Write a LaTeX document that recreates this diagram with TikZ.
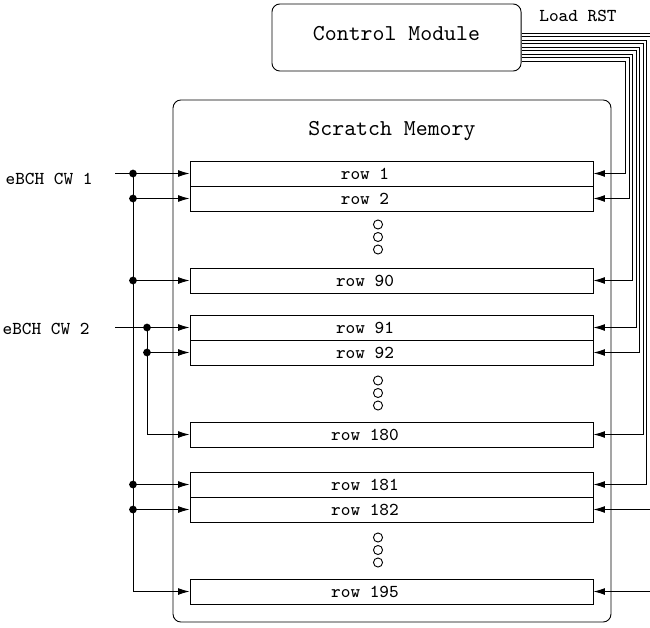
\documentclass[tikz,border=0pt]{standalone}
\usepackage{tikz}
\usetikzlibrary{arrows.meta,positioning,calc}

\begin{document}
\begin{tikzpicture}[x=0.44pt, y=-0.44pt, >={Latex[length=5pt,width=3pt]}, font=\ttfamily,
    block/.style={draw, rounded corners=3.5pt, inner sep=0pt},
    rowbox/.style={draw, minimum width=177.3pt, minimum height=11pt, inner sep=0pt},
    rowtxt/.style={font=\ttfamily\footnotesize, inner sep=1pt},
    lbl/.style={font=\ttfamily\footnotesize},
    jdot/.style={fill=black}]
  \useasboundingbox (0,0) rectangle (650,627);

  % Control module
  \node[block, minimum width=109.6pt, minimum height=29.5pt, text depth=4pt] (ctrl) at (396.5,37.5) {Control Module};
  \node[lbl] (ldrst) at (578,16) {Load RST};

  % Scratch memory
  \node[block, minimum width=192.7pt, minimum height=229.7pt] (mem) at (392,361) {};
  \node[below=6pt of mem.north] (memtitle) {Scratch Memory};

  % Rows
  \foreach \n/\y in {1/173.5, 2/198.5, 90/280.5, 91/327.5, 92/352.5, 180/434.5, 181/484.5, 182/509.5, 195/591.5} {
    \node[rowbox] (r\n) at (391.5,\y) {};
    \node[rowtxt] (t\n) at (365,\y) {row \n};
  }

  % Skipped rows
  \foreach \c in {237,393,550}
    \foreach \d in {-12.5,0,12.5}
      \draw (378,\c+\d) circle (2pt);

  % Codeword 1
  \coordinate (s1) at (115,173.5);
  \coordinate (bus1) at (133,0);
  \node[lbl, anchor=east] (cw1) at (100.6,179) {eBCH CW 1};
  \draw[->] (s1) -- (r1.west);
  \draw[->] (r1.west -| bus1) |- (r195.west);
  \fill[jdot] (r1.west -| bus1) circle (1.7pt);
  \foreach \n in {2,90,181,182} {
    \fill[jdot] (r\n.west -| bus1) circle (1.7pt);
    \draw[->] (r\n.west -| bus1) -- (r\n.west);
  }

  % Codeword 2
  \coordinate (s2) at (115,327.5);
  \coordinate (bus2) at (147,0);
  \node[lbl, anchor=east] (cw2) at (97.6,329) {eBCH CW 2};
  \draw[->] (s2) -- (r91.west);
  \draw[->] (r91.west -| bus2) |- (r180.west);
  \fill[jdot] (r91.west -| bus2) circle (1.7pt);
  \fill[jdot] (r92.west -| bus2) circle (1.7pt);
  \draw[->] (r92.west -| bus2) -- (r92.west);

  % Load / reset lines
  \foreach \n [count=\i] in {1,2,90,91,92,180,181,182,195} {
    \pgfmathsetmacro{\ly}{61-3.5*(\i-1)}
    \pgfmathsetmacro{\lx}{625.5+3.5*(\i-1)}
    \draw[->] (ctrl.east |- 0,\ly) -- (\lx,\ly) |- (r\n.east);
  }
\end{tikzpicture}
\end{document}
